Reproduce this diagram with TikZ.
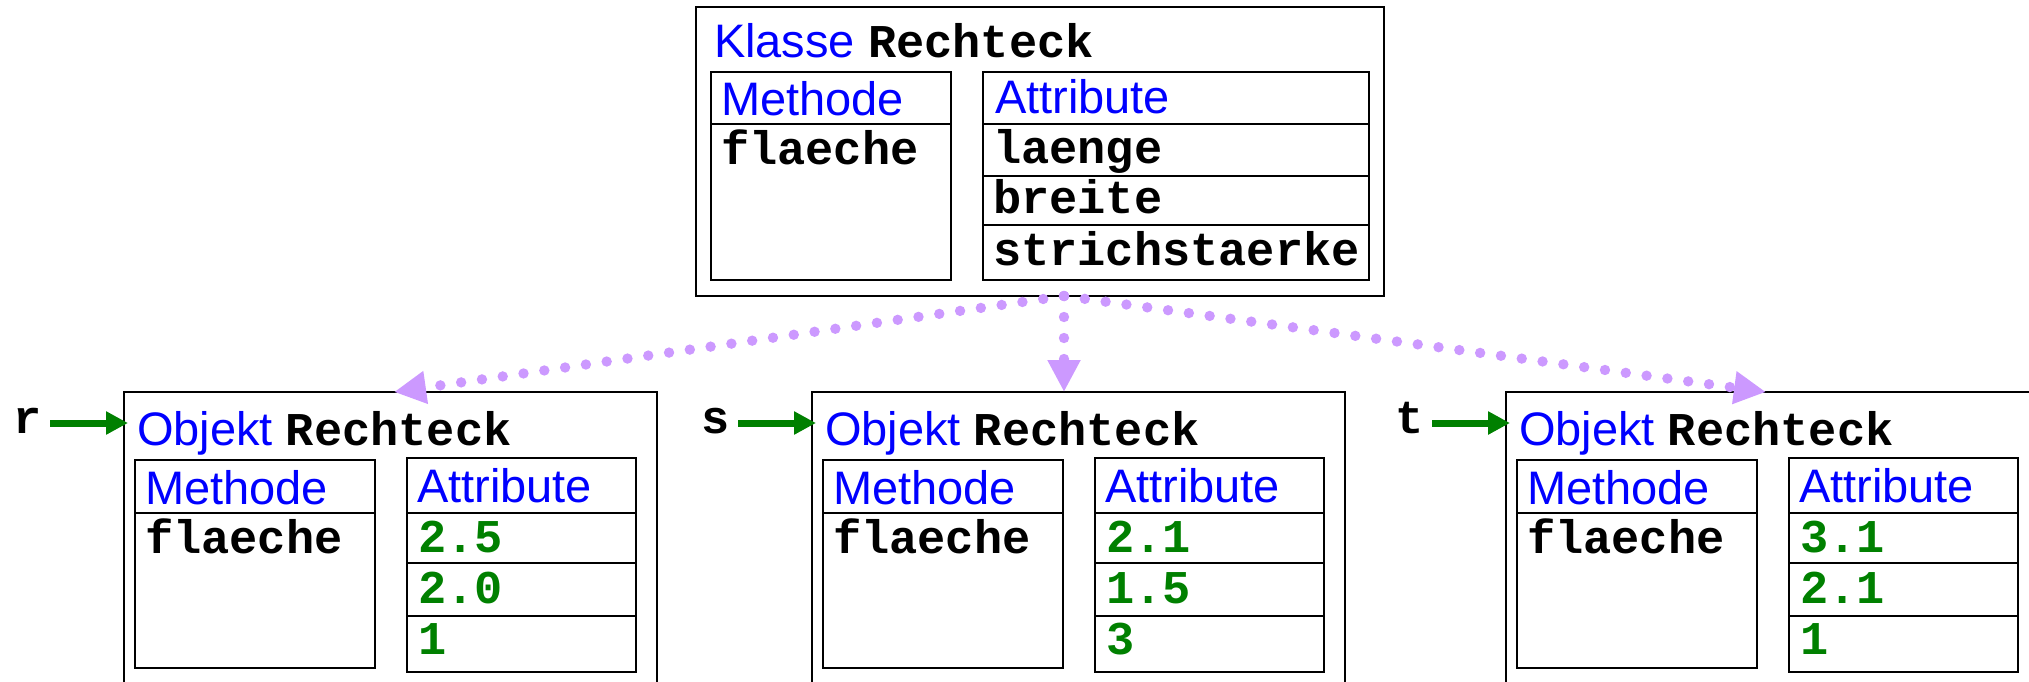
\documentclass[tikz,border=0pt]{standalone}
\usepackage{fontspec}
\setmainfont{Liberation Sans}
\newfontfamily\cour{Liberation Mono}
\usetikzlibrary{arrows.meta}
\definecolor{kblue}{RGB}{0,0,255}
\definecolor{kgreen}{RGB}{0,128,0}
\definecolor{kviolet}{RGB}{204,153,255}
\newcommand\fs{\fontsize{23.5pt}{28pt}\selectfont}
\tikzset{
  box/.style={draw, line width=1.4pt, inner sep=0pt, outer sep=0pt, anchor=north west},
  sepline/.style={line width=1.4pt},
  lbl/.style={anchor=base west, inner sep=0pt, outer sep=0pt, font=\fs},
  mono/.style={font=\fs\cour\bfseries},
  garrow/.style={draw=kgreen, line width=3.5pt, -{Triangle[length=11pt, width=11pt]}, shorten >=-2pt},
  dotarrow/.style={draw=kviolet, line width=5.2pt, line cap=round, dash pattern=on 0pt off 10.5pt,
    -{Triangle[length=16pt, width=15.5pt, fill=kviolet]}}
}
\newcommand\objbox[6]{%
  \begin{scope}[shift={(#2,392)}]
    \node[box, minimum width=266.5pt, minimum height=200pt] (#1) at (0,0) {};
    \node[lbl] (#1-title) at (13,53) {{\color{kblue}Objekt} {\cour\bfseries Rechteck}};
    \node[box, minimum width=120pt, minimum height=104pt] (#1-m) at (11,68) {};
    \draw[sepline] (11,121) -- (251,121);
    \node[box, minimum width=114.5pt, minimum height=107pt] (#1-a) at (283,66) {};
    \draw[sepline] (283,121) -- (512,121);
    \draw[sepline] (283,171) -- (512,171);
    \draw[sepline] (283,224) -- (512,224);
    \node[lbl, text=kblue] (#1-mt) at (21,112) {Methode};
    \node[lbl, mono] (#1-mf) at (21,161) {flaeche};
    \node[lbl, text=kblue] (#1-at) at (293,110) {Attribute};
    \node[lbl, mono, text=kgreen] (#1-v1) at (294,160) {#3};
    \node[lbl, mono, text=kgreen] (#1-v2) at (294,211) {#4};
    \node[lbl, mono, text=kgreen] (#1-v3) at (294,262) {#5};
    \node[lbl, mono] (#1-n) at (-111,41) {#6};
  \end{scope}
  \coordinate (#1-s) at ([yshift=5pt]#1-n.base east);
  \draw[garrow] ([xshift=4.5pt]#1-s) -- (#1-s -| #1.west);
}
\begin{document}
\begin{tikzpicture}[x=0.5pt, y=-0.5pt]
  \useasboundingbox (0,0) rectangle (2029,681);
  \clip (0,0) rectangle (2029,681);
  % class
  \node[box, minimum width=344pt, minimum height=144.5pt] (cls) at (696,7) {};
  \node[lbl] (cls-title) at (714,57) {{\color{kblue}Klasse} {\cour\bfseries Rechteck}};
  \node[box, minimum width=120pt, minimum height=104pt] (cls-m) at (711,72) {};
  \draw[sepline] (711,124) -- (951,124);
  \node[box, minimum width=193pt, minimum height=104pt] (cls-a) at (983,72) {};
  \draw[sepline] (983,124) -- (1369,124);
  \draw[sepline] (983,176) -- (1369,176);
  \draw[sepline] (983,225) -- (1369,225);
  \node[lbl, text=kblue] (cls-mt) at (721,115) {Methode};
  \node[lbl, mono] (cls-mf) at (721,164) {flaeche};
  \node[lbl, text=kblue] (cls-at) at (995,113) {Attribute};
  \node[lbl, mono] (cls-a1) at (993,163) {laenge};
  \node[lbl, mono] (cls-a2) at (993,213) {breite};
  \node[lbl, mono] (cls-a3) at (993,265) {strichstaerke};
  % objects
  \objbox{objr}{124}{2.5}{2.0}{1}{r}
  \objbox{objs}{812}{2.1}{1.5}{3}{s}
  \objbox{objt}{1506}{3.1}{2.1}{1}{t}
  % instance arrows
  \coordinate (org) at ([xshift=12pt]cls.south);
  \draw[dotarrow] (org) -- ([xshift=1.75pt]objr.north);
  \draw[dotarrow] (org) -- (org |- objs.north);
  \draw[dotarrow] (org) -- ([xshift=-3.25pt]objt.north);
\end{tikzpicture}
\end{document}
